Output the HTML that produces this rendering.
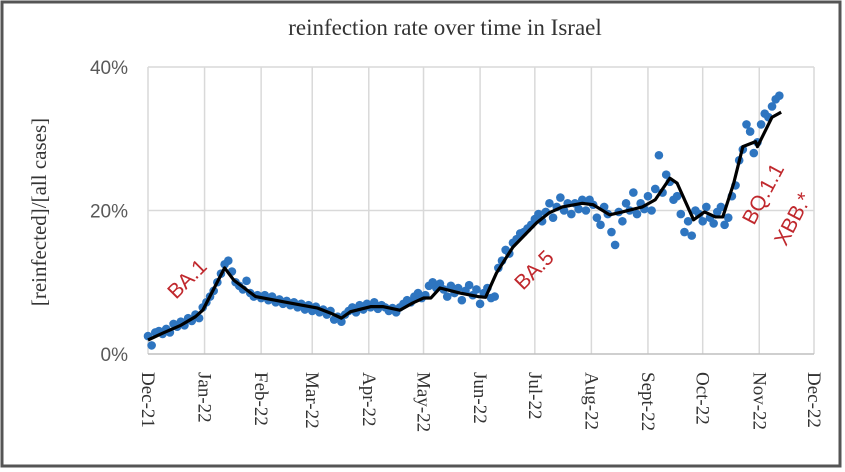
<!DOCTYPE html>
<html><head><meta charset="utf-8"><style>
body{margin:0;background:#fff;width:845px;height:472px;overflow:hidden}
svg{display:block}
</style></head><body>
<svg id="chart" width="845" height="472">
<rect x="2" y="2" width="838" height="464" fill="#fff" stroke="#555" stroke-width="3"/>
<text x="445" y="35" text-anchor="middle" font-family="Liberation Serif, serif" font-size="23" fill="#333">reinfection rate over time in Israel</text>
<text transform="translate(46,212) rotate(-90)" text-anchor="middle" font-family="Liberation Serif, serif" font-size="21" fill="#333">[reinfected]/[all cases]</text>
<g id="grid"></g><g id="ticks"></g><g id="dots"></g><g id="line"></g>
<text transform="translate(176,300) rotate(-45)" font-family="Liberation Sans, sans-serif" font-size="21" fill="#c0282d">BA.1</text>
<text transform="translate(523,291) rotate(-45)" font-family="Liberation Sans, sans-serif" font-size="21" fill="#c0282d">BA.5</text>
<text transform="translate(754,226) rotate(-62)" font-family="Liberation Sans, sans-serif" font-size="21" fill="#c0282d">BQ.1.1</text>
<text transform="translate(786,247) rotate(-62)" font-family="Liberation Sans, sans-serif" font-size="21" fill="#c0282d">XBB.*</text>
</svg>
<script>
const monthLabels=["Dec-21","Jan-22","Feb-22","Mar-22","Apr-22","May-22","Jun-22","Jul-22","Aug-22","Sept-22","Oct-22","Nov-22","Dec-22"];
const monthDays=[0,31,62,90,121,151,182,212,243,274,304,335,365];
const yTicks=[0,20,40];
const yTickLabels=["0%","20%","40%"];
const trendDays=[0,8,18,26,30,42,47,59,78,93,100,106,111,122,129,138,145,151,155,160,171,181,185,191,200,213,220,227,238,244,253,260,271,278,286,290,299,305,311,315,321,326,333,334,342,347];
const trendVals=[1.95,2.9,4.0,5.2,6.1,12.0,10.3,8.0,7.1,6.4,5.7,5.0,5.9,6.6,6.6,6.1,7.1,7.8,7.8,9.2,8.5,8.0,7.9,11.3,14.9,18.3,19.7,20.5,21.0,20.8,19.4,19.8,20.5,21.5,24.5,23.8,18.7,19.8,19.1,19.1,23.8,28.9,29.6,28.9,33.0,33.7];
const dotStep=2;
const dotVals=[2.5,1.2,3.0,3.2,2.8,3.5,3.0,4.2,3.8,4.5,4.0,5.0,4.6,5.5,5.0,6.5,
7.2,8.0,8.8,10.0,11.2,12.5,13.0,11.5,
10.0,9.5,9.0,10.2,8.5,8.0,8.2,
7.8,8.2,7.5,8.0,7.2,7.6,7.0,7.4,6.8,7.2,6.5,7.0,6.2,6.8,6.0,6.6,
5.8,6.2,5.5,6.0,4.8,5.2,4.5,5.5,6.0,
6.5,5.8,6.8,6.2,7.0,6.5,7.2,6.3,6.8,6.5,6.0,6.4,5.8,
6.5,7.0,7.5,7.2,8.0,8.5,7.8,8.2,9.5,10.0,9.2,9.8,
9.0,8.0,9.5,8.5,9.2,7.5,8.8,9.6,8.2,9.0,7.0,8.5,9.2,7.8,8.0,
12.0,13.0,14.5,14.0,15.5,16.0,16.8,17.0,17.5,18.0,18.8,19.5,18.5,19.8,21.0,19.0,20.5,21.8,20.0,21.0,19.5,21.0,20.2,21.5,
20.0,21.5,20.8,19.0,18.0,20.5,19.5,17.0,15.2,19.8,18.5,21.0,20.0,22.5,19.5,21.0,20.2,22.0,20.0,
23.0,27.7,22.5,25.0,24.0,21.5,22.0,19.5,17.0,18.5,16.5,20.0,
19.5,18.5,20.5,19.0,18.2,19.8,20.5,18.0,19.0,22.0,23.5,
27.0,28.5,32.0,31.0,28.0,29.5,32.0,33.5,33.0,34.5,35.5,36.0];

const NS="http://www.w3.org/2000/svg";
const X0=148,X1=814,Y0=354,Y1=67;
const xs=d=>X0+(X1-X0)*d/365;
const ys=v=>Y0-(Y0-Y1)*v/40;
function mk(tag,attrs,parent){const e=document.createElementNS(NS,tag);for(const k in attrs)e.setAttribute(k,attrs[k]);parent.appendChild(e);return e;}
const grid=document.getElementById('grid'),ticks=document.getElementById('ticks');
monthDays.forEach((d,i)=>{
 const l=mk('line',{x1:xs(d),x2:xs(d),y1:Y1,y2:Y0,stroke:'#d9d9d9','stroke-width':1.5},grid);
 
 
 const t=mk('text',{transform:`translate(${xs(d)-6},372) rotate(90)`,'font-family':'Liberation Serif, serif','font-size':19,fill:'#333'},ticks);
 t.textContent=monthLabels[i];
 
 
});
yTicks.forEach((v,i)=>{
 const l=mk('line',{x1:X0,x2:X1,y1:ys(v),y2:ys(v),stroke:v===0?'#bfbfbf':'#d9d9d9','stroke-width':1.5},grid);
 
 
 const t=mk('text',{x:128,y:ys(v)+7,'text-anchor':'end','font-family':'Liberation Sans, sans-serif','font-size':19,fill:'#595959'},ticks);
 t.textContent=yTickLabels[i];
 
 
});
const dots=document.getElementById('dots');
dotVals.forEach((v,i)=>{
 const c=mk('circle',{cx:xs(i*dotStep),cy:ys(v),r:4.3,fill:'#2e75c0'},dots);
 
 
});
const p=mk('polyline',{points:trendDays.map((d,i)=>xs(d)+','+ys(trendVals[i])).join(' '),fill:'none',stroke:'#000','stroke-width':3.2,'stroke-linejoin':'round'},document.getElementById('line'));


</script>
</body></html>
